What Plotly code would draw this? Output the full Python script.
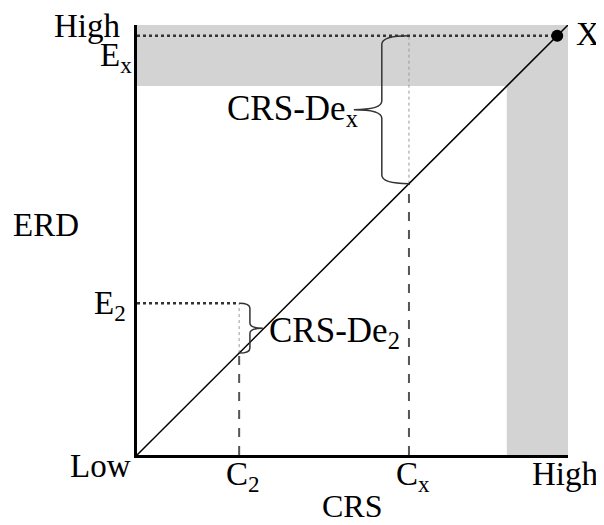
import plotly.graph_objects as go

# ---- data (axis units 0..1 : Low..High) ----
C2 = 0.237          # CRS value of case 2
CX = 0.631          # CRS value of case x
E2 = 0.353          # ERD value of case 2
EX = 0.975          # ERD / CRS of point X
SHADE = 0.858       # start of the grey "high" bands

diag_x = [0, 1]
diag_y = [0, 1]

y_labels = ["High", "E<sub>x</sub>", "E<sub>2</sub>", "Low"]
x_labels = ["C<sub>2</sub>", "C<sub>x</sub>", "High"]
axis_titles = ["CRS", "ERD"]
brace_labels = ["CRS-De<sub>x</sub>", "CRS-De<sub>2</sub>"]
point_label = "X"

FONT = "Liberation Serif"
fig = go.Figure()

# grey bands
fig.add_shape(type="rect", xref="x", yref="y", x0=0, x1=1, y0=SHADE, y1=1,
              fillcolor="rgb(211,211,211)", line_width=0, layer="below")
fig.add_shape(type="rect", xref="x", yref="y", x0=SHADE, x1=1, y0=0, y1=1,
              fillcolor="rgb(211,211,211)", line_width=0, layer="below")

# dashed verticals from axis to diagonal
for c in (C2, CX):
    fig.add_trace(go.Scatter(x=[c, c], y=[0, c], mode="lines",
                             line=dict(color="#555", width=2, dash="dash"),
                             hoverinfo="skip", showlegend=False))
# faint dotted verticals from diagonal to ERD level
fig.add_trace(go.Scatter(x=[C2, C2], y=[C2, E2], mode="lines",
                         line=dict(color="#999", width=1, dash="dot"),
                         hoverinfo="skip", showlegend=False))
fig.add_trace(go.Scatter(x=[CX, CX], y=[CX, EX], mode="lines",
                         line=dict(color="#999", width=1, dash="dot"),
                         hoverinfo="skip", showlegend=False))
# dark dotted horizontals
fig.add_trace(go.Scatter(x=[0, C2], y=[E2, E2], mode="lines",
                         line=dict(color="#333", width=2.5, dash="dot"),
                         hoverinfo="skip", showlegend=False))
fig.add_trace(go.Scatter(x=[0, EX], y=[EX, EX], mode="lines",
                         line=dict(color="#333", width=2.5, dash="dot"),
                         hoverinfo="skip", showlegend=False))
# diagonal
fig.add_trace(go.Scatter(x=diag_x, y=diag_y, mode="lines",
                         line=dict(color="black", width=1.5),
                         hoverinfo="skip", showlegend=False))
# point X
fig.add_trace(go.Scatter(x=[EX], y=[EX], mode="markers",
                         marker=dict(color="black", size=12), cliponaxis=False,
                         hoverinfo="skip", showlegend=False))


def brace(xv, xe, xt, y0, y1, r):
    ym = (y0 + y1) / 2
    return (f"M {xe},{y1} Q {xv},{y1} {xv},{y1 - r} L {xv},{ym + r} "
            f"Q {xv},{ym} {xt},{ym} Q {xv},{ym} {xv},{ym - r} "
            f"L {xv},{y0 + r} Q {xv},{y0} {xe},{y0}")


fig.add_shape(type="path", xref="x", yref="y",
              path=brace(0.568, CX, 0.503, CX, EX, 0.02),
              line=dict(color="#333", width=1.5))
fig.add_shape(type="path", xref="x", yref="y",
              path=brace(0.262, C2, 0.292, C2, E2, 0.012),
              line=dict(color="#333", width=1.5))

ann = []


def txt(t, x, y, xa="center", size=33, ya="middle"):
    # axis range is [0,1] on the full domain, so paper units equal data units
    ann.append(dict(text=t, x=x, y=y, xref="paper", yref="paper", showarrow=False,
                    xanchor=xa, yanchor=ya, borderpad=0,
                    font=dict(family=FONT, size=size, color="black")))


txt(y_labels[0], -0.035, 0.998, "right")
txt(y_labels[1], -0.009, 0.925, "right")
txt(y_labels[2], -0.023, 0.348, "right")
txt(y_labels[3], -0.012, -0.025, "right")
txt(x_labels[0], C2 + 0.01, -0.050)
txt(x_labels[1], CX + 0.01, -0.050)
txt(x_labels[2], 0.995, -0.045)
txt(axis_titles[0], 0.499, -0.118, size=32)
txt(axis_titles[1], -0.132, 0.535, "right")
txt(point_label, 1.046, 0.979)
txt(brace_labels[0], 0.515, 0.800, "right", 35)
txt(brace_labels[1], 0.304, 0.284, "left", 35)

# page body has an 8px margin: shrink figure so the plot area lands where the reference has it
fig.update_layout(
    width=596, height=517, autosize=False,
    margin=dict(l=129, r=36, t=17, b=70, pad=0),
    paper_bgcolor="white", plot_bgcolor="white",
    annotations=ann,
    xaxis=dict(range=[0, 1], showgrid=False, zeroline=False, showticklabels=False,
               ticks="", showline=True, linecolor="black", linewidth=3, fixedrange=True),
    yaxis=dict(range=[0, 1], showgrid=False, zeroline=False, showticklabels=False,
               ticks="", showline=True, linecolor="black", linewidth=3, fixedrange=True),
)

fig.write_html("out.html")
